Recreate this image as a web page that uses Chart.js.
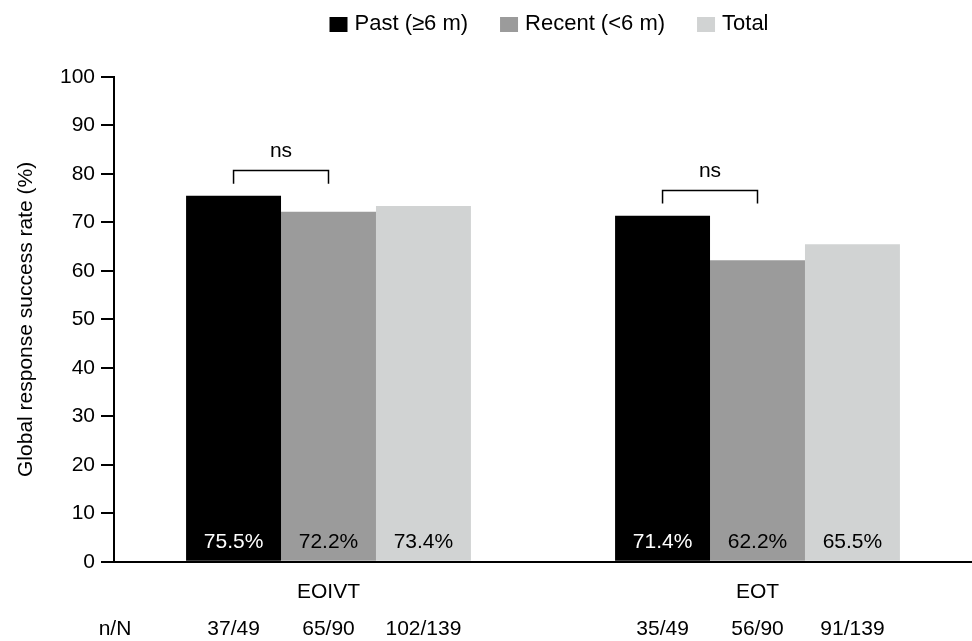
<!DOCTYPE html>
<html>
<head>
<meta charset="utf-8">
<script src="https://cdn.jsdelivr.net/npm/chart.js@4/dist/chart.umd.min.js"></script>
<style>
  html, body { margin: 0; padding: 0; background: #fff; }
  #wrap { width: 972px; height: 641px; position: relative; }
</style>
</head>
<body>
<div id="wrap"><canvas id="chart"></canvas></div>
<script>
const categories = ['EOIVT', 'EOT'];
const seriesNames = ['Past (\u22656 m)', 'Recent (<6 m)', 'Total'];
const seriesColors = ['#000000', '#9b9b9b', '#d1d3d3'];
const pastValues = [75.5, 71.4];
const recentValues = [72.2, 62.2];
const totalValues = [73.4, 65.5];
const pastCounts = ['37/49', '35/49'];
const recentCounts = ['65/90', '56/90'];
const totalCounts = ['102/139', '91/139'];
const sigLabels = ['ns', 'ns'];

const FONT = '"Liberation Sans", Arial, Helvetica, sans-serif';
const FS = 21;
Chart.defaults.font.family = FONT;
Chart.defaults.color = '#000';

// legend on top, drawn by hand so the spacing matches
const topLegend = {
  id: 'topLegend',
  afterDraw(chart) {
    const ctx = chart.ctx;
    ctx.save();
    ctx.font = '22px ' + FONT;
    ctx.textBaseline = 'middle';
    ctx.textAlign = 'left';
    const box = 18, gap = 7, itemGap = 32;
    const widths = seriesNames.map(n => box + gap + ctx.measureText(n).width);
    const total = widths.reduce((a, b) => a + b, 0) + itemGap * (widths.length - 1);
    let x = 549 - total / 2;
    const cy = 24;
    seriesNames.forEach((n, i) => {
      ctx.fillStyle = seriesColors[i];
      ctx.fillRect(x, cy - 7, box, 15);
      ctx.fillStyle = '#000';
      ctx.fillText(n, x + box + gap, cy);
      x += widths[i] + itemGap;
    });
    ctx.restore();
  }
};

// percentage labels inside bars, brackets, n/N row
const annotations = {
  id: 'annotations',
  afterDatasetsDraw(chart) {
    const ctx = chart.ctx;
    const y = chart.scales.y;
    const counts = [pastCounts, recentCounts, totalCounts];
    ctx.save();
    ctx.font = FS + 'px ' + FONT;
    ctx.textAlign = 'center';
    ctx.textBaseline = 'middle';
    chart.data.datasets.forEach((ds, i) => {
      const meta = chart.getDatasetMeta(i);
      meta.data.forEach((bar, j) => {
        ctx.fillStyle = i === 0 ? '#fff' : '#000';
        ctx.fillText(ds.data[j].toFixed(1) + '%', bar.x, chart.chartArea.bottom - 20);
        ctx.fillStyle = '#000';
        ctx.fillText(counts[i][j], bar.x, 629);
      });
    });
    ctx.fillText('n/N', 115, 629);

    // brackets between past and recent
    categories.forEach((c, j) => {
      const b0 = chart.getDatasetMeta(0).data[j];
      const b1 = chart.getDatasetMeta(1).data[j];
      const top = Math.max(pastValues[j], recentValues[j]);
      const yTop = y.getPixelForValue(top + 5.2);
      const yLeg = y.getPixelForValue(top + 2.5);
      ctx.strokeStyle = '#000';
      ctx.lineWidth = 1.5;
      ctx.beginPath();
      ctx.moveTo(b0.x, yLeg);
      ctx.lineTo(b0.x, yTop);
      ctx.lineTo(b1.x, yTop);
      ctx.lineTo(b1.x, yLeg);
      ctx.stroke();
      ctx.fillText(sigLabels[j], (b0.x + b1.x) / 2, yTop - 19);
    });
    ctx.restore();
  }
};

new Chart(document.getElementById('chart'), {
  type: 'bar',
  data: {
    labels: categories,
    datasets: [
      { label: seriesNames[0], data: pastValues, backgroundColor: seriesColors[0] },
      { label: seriesNames[1], data: recentValues, backgroundColor: seriesColors[1] },
      { label: seriesNames[2], data: totalValues, backgroundColor: seriesColors[2] }
    ]
  },
  options: {
    responsive: true,
    maintainAspectRatio: false,
    animation: false,
    datasets: { bar: { categoryPercentage: 0.664, barPercentage: 1.0 } },
    layout: { padding: { top: 77, right: 0, bottom: 18, left: 0 } },
    plugins: {
      legend: { display: false },
      tooltip: { enabled: false }
    },
    scales: {
      x: {
        grid: { display: false, drawTicks: false },
        border: { color: '#000', width: 2 },
        ticks: { color: '#000', font: { size: FS }, padding: 18 }
      },
      y: {
        min: 0,
        max: 100,
        ticks: { stepSize: 10, color: '#000', font: { size: FS }, padding: 6 },
        grid: { drawOnChartArea: false, drawTicks: true, tickLength: 13, color: '#000', lineWidth: 2 },
        border: { color: '#000', width: 2 },
        title: {
          display: true,
          text: 'Global response success rate (%)',
          color: '#000',
          font: { size: FS },
          padding: { top: 14, bottom: 0 }
        },
        afterFit(scale) { scale.width = 114; }
      }
    }
  },
  plugins: [annotations, topLegend]
});
</script>
</body>
</html>
